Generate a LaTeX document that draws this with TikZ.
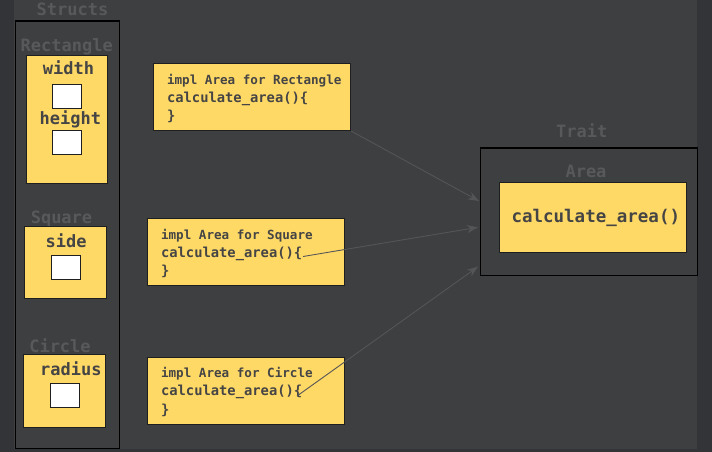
\documentclass[tikz,border=0pt]{standalone}
\usepackage{fontspec}
\setmonofont{DejaVu Sans Mono}
\usetikzlibrary{arrows.meta,positioning,calc}

\definecolor{outerbg}{HTML}{333437}
\definecolor{panelbg}{HTML}{3E3F41}
\definecolor{dimlabel}{HTML}{58595B}
\definecolor{darktext}{HTML}{454545}
\definecolor{boxyellow}{HTML}{FFD966}
\definecolor{boxline}{HTML}{1F1F1F}
\definecolor{arrowgrey}{HTML}{545557}

\begin{document}
\begin{tikzpicture}[
  x=1pt, y=-1pt,
  group/.style={draw=black, line width=1.2pt, inner sep=0pt, anchor=north west},
  ybox/.style={draw=boxline, fill=boxyellow, line width=1pt, inner sep=0pt, anchor=north west},
  field/.style={draw=boxline, fill=white, line width=1pt, inner sep=0pt, anchor=north west,
    minimum width=28.5pt, minimum height=23.5pt},
  title/.style={anchor=base, text=dimlabel, font=\ttfamily\bfseries\fontsize{17}{20}\selectfont},
  fname/.style={anchor=base, text=darktext, font=\ttfamily\bfseries\fontsize{17}{20}\selectfont},
  head/.style={anchor=base west, text=darktext, font=\ttfamily\bfseries\fontsize{12.6}{15}\selectfont},
  code/.style={anchor=base west, text=darktext, font=\ttfamily\bfseries\fontsize{13.8}{16}\selectfont},
  arrow/.style={-{Stealth[length=11pt,width=8pt]}, draw=arrowgrey, line width=0.9pt}
]
\useasboundingbox (0,0) rectangle (712,452);
\fill[outerbg] (0,0) rectangle (712,452);
\fill[panelbg] (14,0) rectangle (697,449);

% structs column
\node[title] (structslbl) at (72.5,15.2) {Structs};
\node[group, minimum width=104pt, minimum height=427.5pt] (structs) at (14.5,20.5) {};

\node[title] (rectlbl) at (66.7,51.2) {Rectangle};
\node[ybox, minimum width=81.6pt, minimum height=127.7pt] (rect) at (25.7,55) {};
\node[fname] (widthlbl) at (68.5,74.5) {width};
\node[field] (widthval) at (52.3,84) {};
\node[fname] (heightlbl) at (70.3,124.5) {height};
\node[field] (heightval) at (52.3,130) {};

\node[title] (sqlbl) at (61.5,223.2) {Square};
\node[ybox, minimum width=81.7pt, minimum height=72.3pt] (square) at (24.3,226) {};
\node[fname] (sidelbl) at (66.2,247.2) {side};
\node[field, minimum height=24pt] (sideval) at (51,254.7) {};

\node[title] (cilbl) at (60,352.2) {Circle};
\node[ybox, minimum width=81.7pt, minimum height=72.4pt] (circle) at (23.3,354.3) {};
\node[fname] (radiuslbl) at (70.8,375.5) {radius};
\node[field, minimum height=24pt] (radiusval) at (50,383) {};

% impl blocks
\node[ybox, minimum width=197.3pt, minimum height=67pt] (implrect) at (152.7,63) {};
\node[head] at (163.5,84.5) {impl Area for Rectangle};
\node[code] at (163.5,102) {calculate\_area()\{};
\node[code] at (163.5,120.3) {\}};

\node[ybox, minimum width=196.7pt, minimum height=67.3pt] (implsq) at (147.3,218) {};
\node[head] at (157.5,239.5) {impl Area for Square};
\node[code] at (157.5,257) {calculate\_area()\{};
\node[code] at (157.5,275.3) {\}};

\node[ybox, minimum width=197pt, minimum height=67.3pt] (implci) at (147.3,356.7) {};
\node[head] at (157.5,377.9) {impl Area for Circle};
\node[code] at (157.5,395.8) {calculate\_area()\{};
\node[code] at (157.5,414.1) {\}};

% trait
\node[title] (traitlbl) at (581.7,137.2) {Trait};
\node[group, minimum width=216.7pt, minimum height=127.7pt] (trait) at (480,147.3) {};
\node[title] (arealbl) at (586,177.2) {Area};
\node[ybox, minimum width=186.4pt, minimum height=70pt] (area) at (499.3,182.3) {};
\node[fname, font=\ttfamily\bfseries\fontsize{17.5}{20}\selectfont] (areafn) at (595.8,222.6) {calculate\_area()};

% connectors
\coordinate (sqstart) at (303,256.5);
\coordinate (cistart) at (297,396);
\coordinate (tiprect) at (479,201);
\coordinate (tipsq) at (478,227.3);
\coordinate (tipci) at (478,266.7);

\draw[arrow] (implrect.south east) -- (tiprect);
\draw[arrow] (sqstart) -- (tipsq);
\draw[arrow] (cistart) -- (tipci);

\end{tikzpicture}
\end{document}
